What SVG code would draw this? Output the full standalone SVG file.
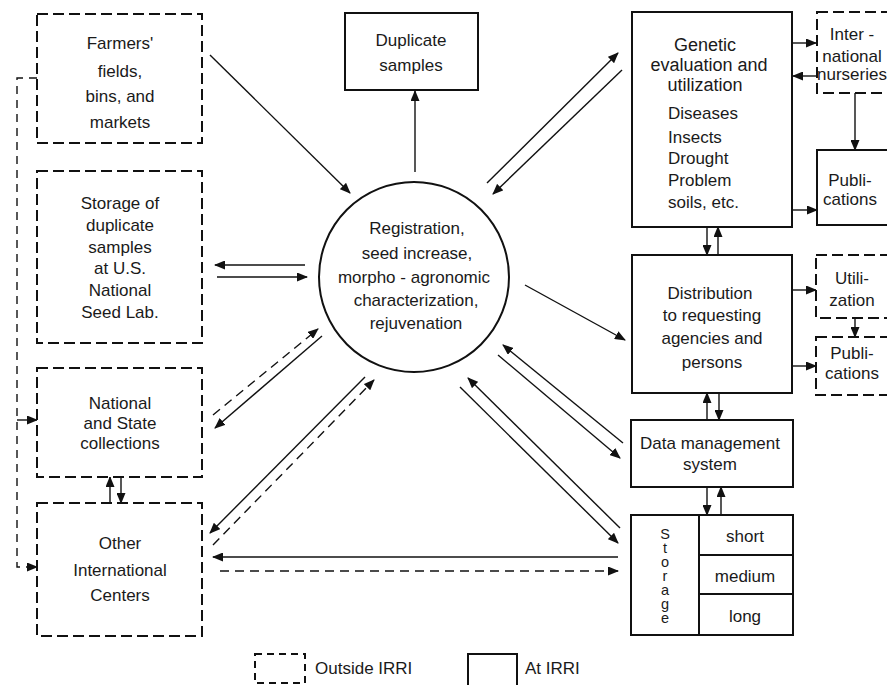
<svg xmlns="http://www.w3.org/2000/svg" width="887" height="685" viewBox="0 0 887 685">
<style>
text{font-family:"Liberation Sans",Arial,sans-serif;font-size:17px;fill:#1a1a1a;text-anchor:middle}
.t18{font-size:18px}
.l{text-anchor:start}
.vert{writing-mode:vertical-rl;text-orientation:upright;font-size:14.5px;letter-spacing:-2px;text-anchor:start}
.solid{fill:#fff;stroke:#111;stroke-width:2}
.dash{fill:#fff;stroke:#111;stroke-width:2;stroke-dasharray:11 5}
.c{fill:none;stroke:#111;stroke-width:1.4;marker-end:url(#ah)}
.cd{fill:none;stroke:#111;stroke-width:1.4;stroke-dasharray:9 6;marker-end:url(#ah)}
.cn{fill:none;stroke:#111;stroke-width:1.4}
</style>
<defs>
<marker id="ah" markerUnits="userSpaceOnUse" markerWidth="11" markerHeight="9" refX="10" refY="4.5" orient="auto">
<path d="M0,0 L11,4.5 L0,9 z" fill="#111" stroke="none"/>
</marker>
</defs>
<rect width="887" height="685" fill="#fff"/>

<g id="connectors">
<path class="c" d="M210,55 L350,193"/>
<path class="c" d="M415,172 L415,91"/>
<path class="c" d="M487,183 L618,53"/>
<path class="c" d="M622,70 L493,194"/>
<path class="c" d="M305,265 L215,265"/>
<path class="c" d="M217,277 L307,277"/>
<path class="cd" d="M213,415 L318,329"/>
<path class="c" d="M322,336 L215,428"/>
<path class="c" d="M365,377 L210,533"/>
<path class="cd" d="M213,545 L374,380"/>
<path class="c" d="M525,285 L625,340"/>
<path class="c" d="M623,443 L503,345"/>
<path class="c" d="M498,355 L620,458"/>
<path class="c" d="M620,528 L468,378"/>
<path class="c" d="M460,387 L618,543"/>
<path class="c" d="M618,557 L213,557"/>
<path class="cd" d="M220,571 L618,571"/>
<path class="c" d="M792,43 L816,43"/>
<path class="c" d="M816,76 L793,76"/>
<path class="c" d="M855,93 L855,150"/>
<path class="c" d="M792,210 L817,210"/>
<path class="c" d="M707,227 L707,255"/>
<path class="c" d="M718,255 L718,227"/>
<path class="c" d="M792,290 L816,290"/>
<path class="c" d="M855,318 L855,337"/>
<path class="c" d="M792,366 L816,366"/>
<path class="c" d="M707,420 L707,393"/>
<path class="c" d="M719,393 L719,420"/>
<path class="c" d="M707,487 L707,515"/>
<path class="c" d="M721,515 L721,487"/>
<path class="c" d="M121,477 L121,503"/>
<path class="c" d="M110,503 L110,477"/>
<path class="cd" d="M37,78 H17 V567 H37" style="stroke-dasharray:8 6"/>
<path class="cn" d="M17,420 H37" marker-end="url(#ah)"/>
</g>

<g id="farmers">
<rect class="dash" x="37" y="14" width="165" height="129"/>
<text x="120" y="49">Farmers'</text>
<text x="120" y="77">fields,</text>
<text x="120" y="102">bins, and</text>
<text x="120" y="128">markets</text>
</g>

<g id="storage-dup">
<rect class="dash" x="37" y="171" width="165" height="172"/>
<text x="120" y="209">Storage of</text>
<text x="120" y="231">duplicate</text>
<text x="120" y="253">samples</text>
<text x="120" y="274">at U.S.</text>
<text x="120" y="296">National</text>
<text x="120" y="318">Seed Lab.</text>
</g>

<g id="national">
<rect class="dash" x="37" y="368" width="165" height="109"/>
<text x="120" y="409">National</text>
<text x="120" y="429">and State</text>
<text x="120" y="449">collections</text>
</g>

<g id="other-intl">
<rect class="dash" x="37" y="503" width="165" height="133"/>
<text x="120" y="549">Other</text>
<text x="120" y="576">International</text>
<text x="120" y="601">Centers</text>
</g>

<g id="duplicate">
<rect class="solid" x="345" y="13" width="133" height="77"/>
<text x="411" y="46">Duplicate</text>
<text x="411" y="71">samples</text>
</g>

<g id="registration">
<circle cx="414" cy="277" r="95" fill="#fff" stroke="#111" stroke-width="2"/>
<text x="417" y="234">Registration,</text>
<text x="417" y="259">seed increase,</text>
<text x="414" y="283">morpho - agronomic</text>
<text x="416" y="306">characterization,</text>
<text x="416" y="329">rejuvenation</text>
</g>

<g id="genetic">
<rect class="solid" x="632" y="12" width="160" height="215"/>
<text class="t18" x="705" y="51">Genetic</text>
<text class="t18" x="709" y="71">evaluation and</text>
<text class="t18" x="705" y="91">utilization</text>
<text class="l" x="668" y="119">Diseases</text>
<text class="l" x="668" y="143">Insects</text>
<text class="l" x="668" y="164">Drought</text>
<text class="l" x="668" y="186">Problem</text>
<text class="l" x="668" y="208">soils, etc.</text>
</g>

<g id="intl-nurseries">
<rect class="dash" x="817" y="12" width="80" height="81"/>
<text x="852" y="40">Inter -</text>
<text x="852" y="62">national</text>
<text x="852" y="80">nurseries</text>
</g>

<g id="publications1">
<rect class="solid" x="817" y="150" width="80" height="75"/>
<text x="850" y="186">Publi-</text>
<text x="850" y="205">cations</text>
</g>

<g id="distribution">
<rect class="solid" x="632" y="255" width="160" height="138"/>
<text x="710" y="299">Distribution</text>
<text x="712" y="321">to requesting</text>
<text x="712" y="344">agencies and</text>
<text x="712" y="368">persons</text>
</g>

<g id="utilization">
<rect class="dash" x="816" y="255" width="80" height="63"/>
<text x="852" y="284">Utili-</text>
<text x="852" y="306">zation</text>
</g>

<g id="publications2">
<rect class="dash" x="816" y="337" width="80" height="58"/>
<text x="852" y="359">Publi-</text>
<text x="852" y="379">cations</text>
</g>

<g id="data-mgmt">
<rect class="solid" x="631" y="420" width="162" height="67"/>
<text x="710" y="449">Data management</text>
<text x="710" y="470">system</text>
</g>

<g id="storage">
<rect class="solid" x="631" y="515" width="162" height="120"/>
<path d="M699,515 V635 M699,555 H793 M699,594 H793" stroke="#111" stroke-width="2" fill="none"/>
<text class="vert" x="665" y="526">Storage</text>
<text x="745" y="542">short</text>
<text x="745" y="582">medium</text>
<text x="745" y="622">long</text>
</g>

<g id="legend">
<rect class="dash" x="255" y="654" width="50" height="29" style="stroke-dasharray:7 5"/>
<text class="l" x="315" y="674">Outside IRRI</text>
<rect class="solid" x="468" y="654" width="49" height="34"/>
<text class="l" x="525" y="674">At IRRI</text>
</g>
</svg>
